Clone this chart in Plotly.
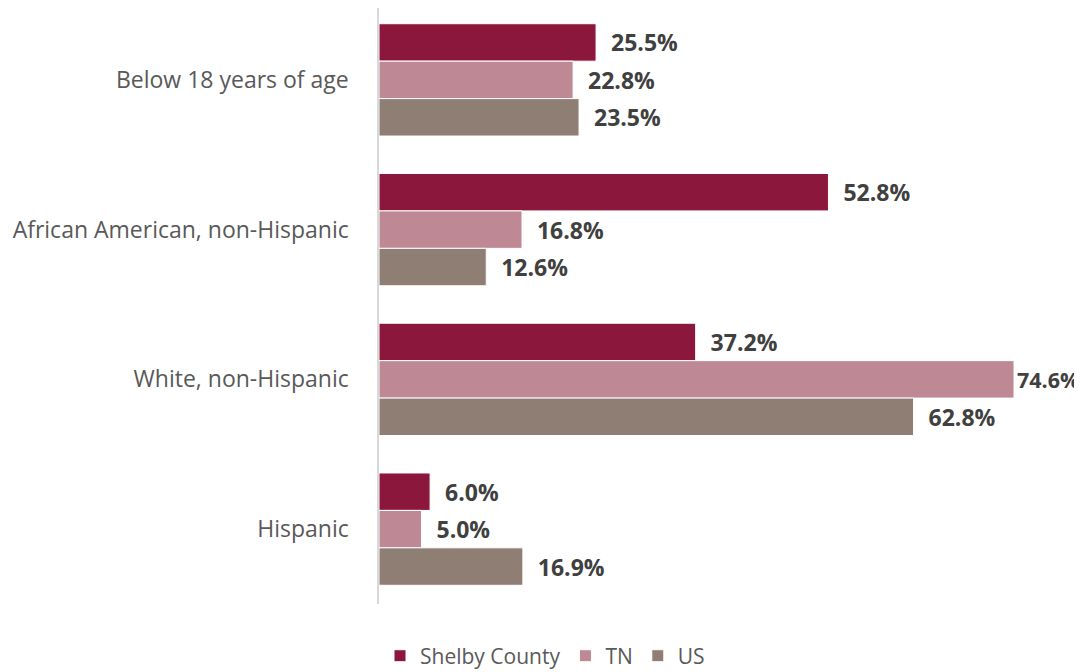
import plotly.graph_objects as go

categories = ["Below 18 years of age", "African American, non-Hispanic", "White, non-Hispanic", "Hispanic"]
series_names = ["Shelby County", "TN", "US"]
shelby = [25.5, 52.8, 37.2, 6.0]
tn = [22.8, 16.8, 74.6, 5.0]
us = [23.5, 12.6, 62.8, 16.9]
colors = ["#8C173D", "#BF8895", "#8E7E73"]

fig = go.Figure()
for name, vals, col in zip(series_names, [shelby, tn, us], colors):
    near_edge = [v > 70 for v in vals]
    labels = [("" if e else "  ") + f"{v:.1f}%" for v, e in zip(vals, near_edge)]
    sizes = [21.5 if e else 23 for e in near_edge]
    fig.add_trace(go.Bar(
        y=categories, x=vals, name=name, orientation="h",
        marker=dict(color=col, line=dict(color="white", width=1)),
        text=labels, textposition="outside",
        textfont=dict(family="Open Sans", size=sizes, color="#404040", weight="bold"),
        cliponaxis=False, constraintext="none",
    ))

fig.update_layout(
    barmode="group", bargap=0.25, bargroupgap=0,
    width=1074, height=664,
    margin=dict(l=371, r=22, t=0, b=68, autoexpand=False),
    paper_bgcolor="white", plot_bgcolor="white",
    font=dict(family="Open Sans", color="#595959"),
    xaxis=dict(range=[0, 80], visible=False, showgrid=False, zeroline=False, automargin=False),
    yaxis=dict(range=[3.5, -0.48], showline=True, linecolor="#D9D9D9", linewidth=1.5,
               ticks="", tickfont=dict(size=23, color="#595959"), ticksuffix="    ",
               automargin=False),
    legend=dict(orientation="h", xref="container", x=0.5, xanchor="center",
                yref="container", y=0.024, yanchor="middle",
                font=dict(size=21, color="#595959"), traceorder="normal", itemwidth=30),
    showlegend=True,
)
fig.write_html("out.html")
